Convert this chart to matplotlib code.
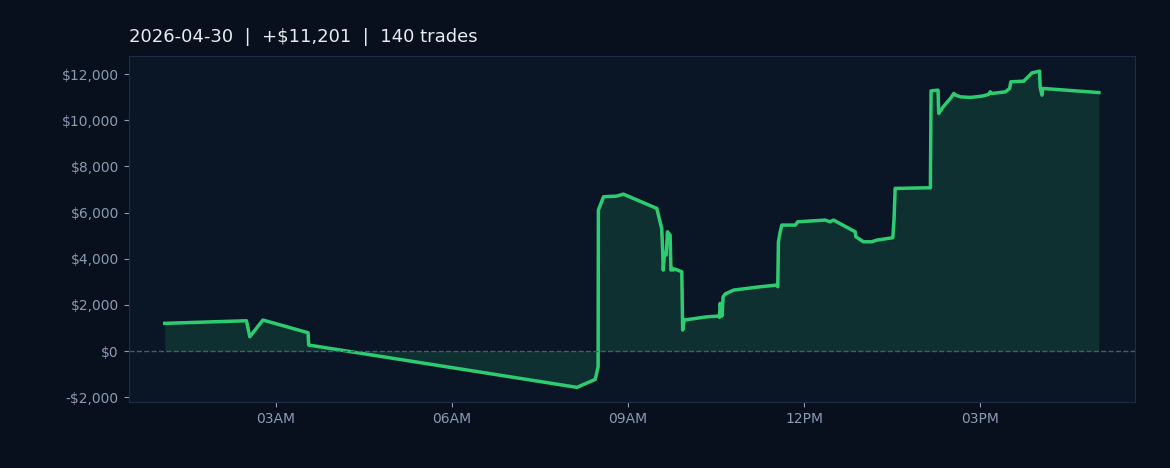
import matplotlib
matplotlib.use("Agg")
import matplotlib.pyplot as plt
import matplotlib.dates as mdates
import matplotlib.ticker as mticker
import numpy as np
import pandas as pd

# cumulative P&L for the day
times = ["01:06:30", "02:30:00", "02:33:25", "02:46:50", "03:33:00", "03:33:36",
         "08:07:50", "08:26:30", "08:29:25", "08:29:40", "08:35:00", "08:48:30",
         "08:55:10", "09:29:20", "09:34:25", "09:35:25", "09:36:00", "09:37:10",
         "09:39:00", "09:40:15", "09:43:00", "09:43:50", "09:45:20", "09:46:10",
         "09:48:00", "09:54:55", "09:55:50", "09:57:20", "10:20:00", "10:32:25",
         "10:33:25", "10:34:10", "10:36:00", "10:37:10", "10:39:30", "10:48:00",
         "11:15:00", "11:31:50", "11:33:00", "11:33:40", "11:35:30", "11:37:10",
         "11:51:00", "11:53:25", "12:21:35", "12:26:25", "12:30:00", "12:52:10",
         "12:52:50", "13:00:35", "13:09:00", "13:14:25", "13:30:35", "13:31:50",
         "13:33:00", "14:09:00", "14:09:40", "14:16:50", "14:17:30", "14:22:10",
         "14:29:25", "14:33:00", "14:34:40", "14:39:40", "14:49:50", "15:01:50",
         "15:08:25", "15:10:10", "15:12:00", "15:25:45", "15:30:00", "15:31:10",
         "15:44:25", "15:52:50", "16:00:35", "16:01:10", "16:03:00", "16:03:50",
         "17:01:10"]
pnl = [1200, 1313, 620, 1343, 793, 260,
       -1574, -1227, -680, 6108, 6686, 6714,
       6800, 6181, 5314, 4302, 3509, 4232,
       4159, 5168, 5025, 3509, 3582, 3509,
       3552, 3436, 910, 1343, 1480, 1516,
       1460, 2066, 1516, 2352, 2480, 2642,
       2785, 2859, 2785, 4735, 5168, 5458,
       5458, 5601, 5675, 5601, 5675, 5168,
       4952, 4735, 4735, 4808, 4911, 5700,
       7048, 7076, 11277, 11306, 10297, 10586,
       10947, 11163, 11090, 11017, 10990, 11047,
       11120, 11234, 11163, 11234, 11380, 11667,
       11696, 12056, 12130, 11450, 11090, 11380,
       11201]

day = "2026-04-30"
n_trades = 140

t = pd.to_datetime([day + " " + s for s in times])
y = np.array(pnl)

fig_bg = "#07101c"
ax_bg = "#0a1526"
green = "#2ecc71"
tick_col = "#8b9bb4"

fig = plt.figure(figsize=(11.7, 4.68), dpi=100, facecolor=fig_bg)
ax = fig.add_axes([0.110, 0.141, 0.860, 0.739])
ax.set_facecolor(ax_bg)

ax.fill_between(t, 0, y, color=green, alpha=0.15, linewidth=0)
ax.plot(t, y, color=green, linewidth=2.5)
ax.axhline(0, color="#4a5a6e", linestyle="--", linewidth=1)

ax.set_xlim(pd.Timestamp(day + " 00:29:40"), pd.Timestamp(day + " 17:38:00"))
ax.set_ylim(-2209, 12779)

ax.xaxis.set_major_locator(mdates.HourLocator(byhour=[3, 6, 9, 12, 15]))
ax.xaxis.set_major_formatter(mdates.DateFormatter("%I%p"))
ax.yaxis.set_major_locator(mticker.MultipleLocator(2000))
ax.yaxis.set_major_formatter(mticker.FuncFormatter(
    lambda v, p: f"${v:,.0f}" if v >= 0 else f"-${-v:,.0f}"))

ax.tick_params(colors=tick_col, labelsize=10)
for s in ax.spines.values():
    s.set_color("#1e2d45")

final = y[-1]
ax.set_title(f"{day}  |  +${final:,.0f}  |  {n_trades} trades",
             loc="left", color="#e6edf3", fontsize=13, pad=10)

fig.savefig("out.png", facecolor=fig_bg)
